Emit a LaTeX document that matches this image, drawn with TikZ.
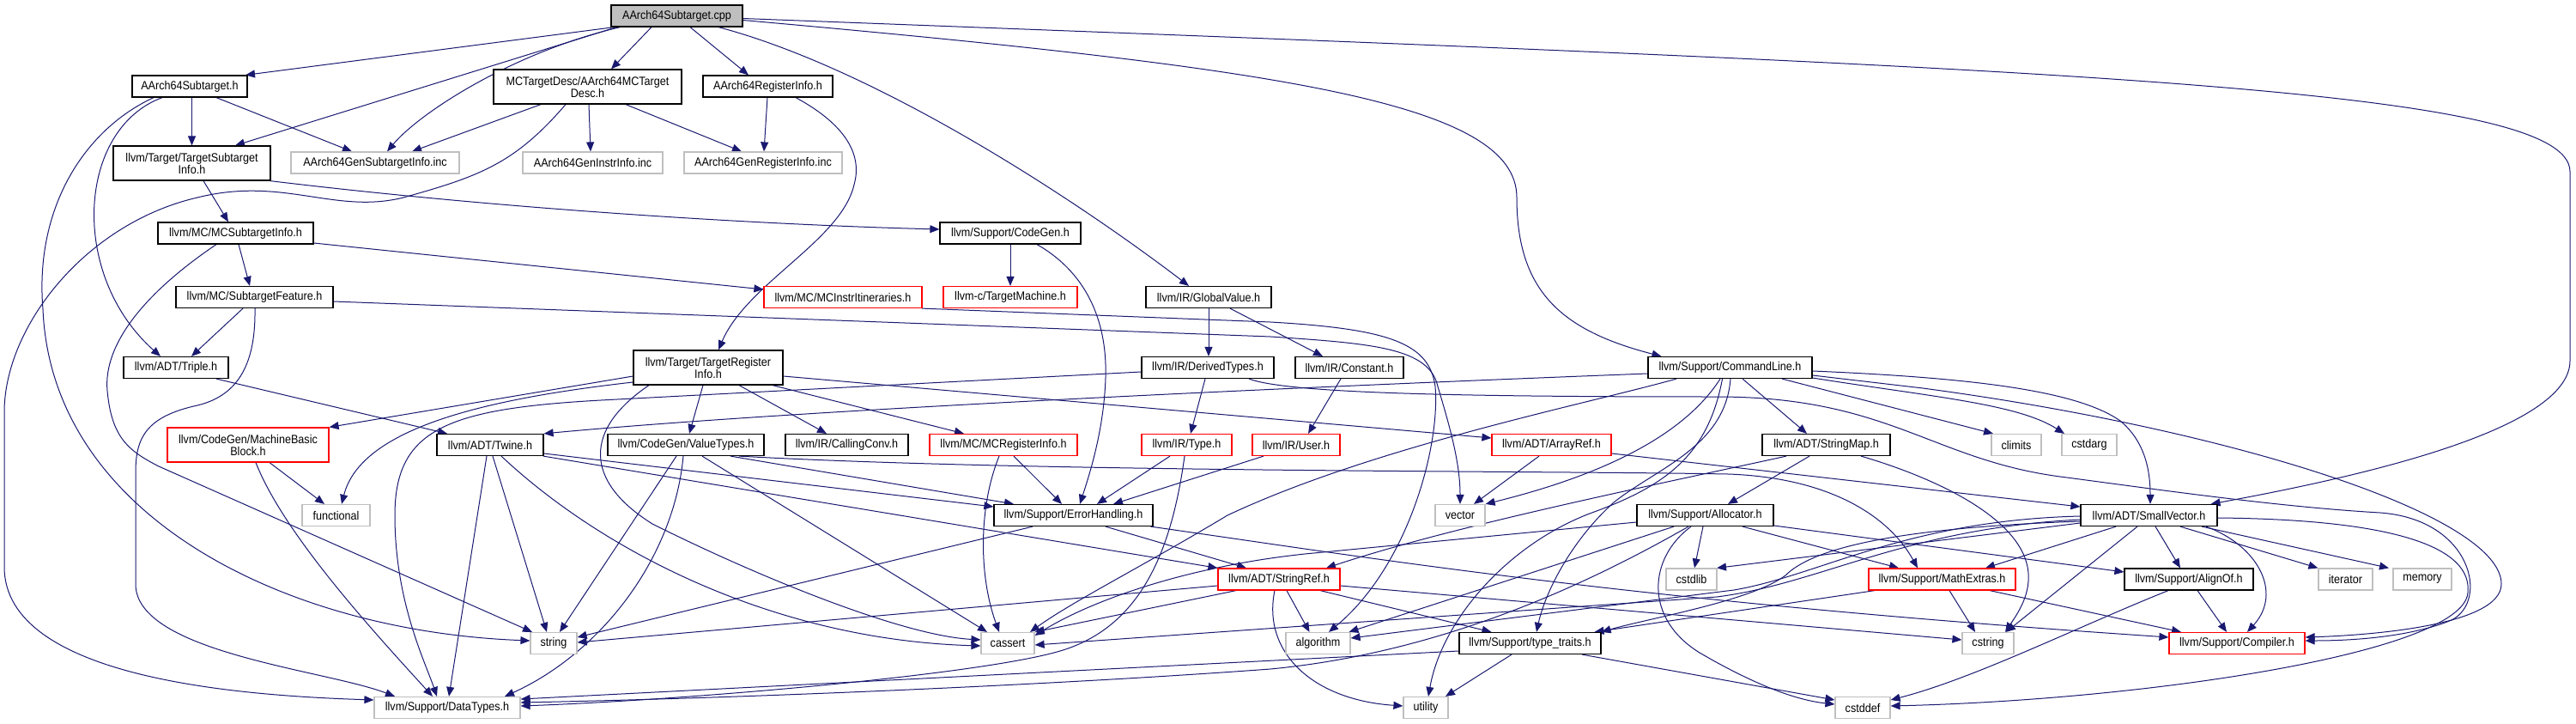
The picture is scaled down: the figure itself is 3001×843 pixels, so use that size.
\documentclass[tikz,border=0pt]{standalone}
\usepackage{fontspec}
\setmainfont{Liberation Sans}[FakeStretch=0.9]
\usetikzlibrary{arrows.meta}
\definecolor{edgec}{RGB}{25,25,112}
\definecolor{leafgray}{RGB}{191,191,191}
\definecolor{redb}{RGB}{255,0,0}
\definecolor{mainfill}{RGB}{191,191,191}
\pgfdeclarelayer{bg}
\pgfsetlayers{bg,main}
\tikzset{
  nb/.style={draw=black, line width=1.2pt, fill=white, inner sep=0pt, minimum height=25pt, align=center, font=\fontsize{14}{14}\selectfont},
  nl/.style={nb, draw=leafgray},
  nr/.style={nb, draw=redb},
  nm/.style={nb, fill=mainfill},
  edg/.style={draw=edgec, line width=1pt, -{Triangle[length=11pt,width=9pt]}},
}
\begin{document}
\begin{tikzpicture}[x=1pt,y=-1pt]
\useasboundingbox (0,0) rectangle (3001,843);
% ---------- nodes ----------
\node[nm, minimum width=153pt] (main) at (788.5,18.5) {AArch64Subtarget.cpp};
\node[nb, minimum width=134pt] (a64st) at (221,100.5) {AArch64Subtarget.h};
\node[nb, minimum width=219pt, minimum height=40pt] (mctd) at (684.5,101) {MCTargetDesc/AArch64MCTarget\\Desc.h};
\node[nb, minimum width=151pt] (a64ri) at (894.5,100.5) {AArch64RegisterInfo.h};
\node[nb, minimum width=183pt, minimum height=40pt] (tsi) at (223.5,190) {llvm/Target/TargetSubtarget\\Info.h};
\node[nl, minimum width=196pt] (gensti) at (437,189.5) {AArch64GenSubtargetInfo.inc};
\node[nl, minimum width=163pt] (genii) at (690.5,189.5) {AArch64GenInstrInfo.inc};
\node[nl, minimum width=184pt] (genri) at (889,189.5) {AArch64GenRegisterInfo.inc};
\node[nb, minimum width=181pt] (mcsti) at (274.5,271.5) {llvm/MC/MCSubtargetInfo.h};
\node[nb, minimum width=164pt] (codegen) at (1177,271.5) {llvm/Support/CodeGen.h};
\node[nb, minimum width=183pt] (stf) at (296.5,346) {llvm/MC/SubtargetFeature.h};
\node[nr, minimum width=184pt] (mcii) at (982,346) {llvm/MC/MCInstrItineraries.h};
\node[nr, minimum width=156pt] (tm) at (1177,346) {llvm-c/TargetMachine.h};
\node[nb, minimum width=146pt] (gv) at (1408,346) {llvm/IR/GlobalValue.h};
\node[nb, minimum width=122pt] (triple) at (205,428) {llvm/ADT/Triple.h};
\node[nb, minimum width=174pt, minimum height=40pt] (tri) at (825,428) {llvm/Target/TargetRegister\\Info.h};
\node[nb, minimum width=154pt] (dt) at (1407,428) {llvm/IR/DerivedTypes.h};
\node[nb, minimum width=126pt] (cnst) at (1572,428) {llvm/IR/Constant.h};
\node[nb, minimum width=191pt] (cl) at (2015.5,428) {llvm/Support/CommandLine.h};
\node[nr, minimum width=188pt, minimum height=40pt] (mbb) at (289,518) {llvm/CodeGen/MachineBasic\\Block.h};
\node[nb, minimum width=124pt] (twine) at (571,518) {llvm/ADT/Twine.h};
\node[nb, minimum width=182pt] (vt) at (799,518) {llvm/CodeGen/ValueTypes.h};
\node[nb, minimum width=143pt] (cc) at (986.5,518) {llvm/IR/CallingConv.h};
\node[nr, minimum width=172pt] (mcri) at (1169,518) {llvm/MC/MCRegisterInfo.h};
\node[nr, minimum width=105pt] (typeh) at (1382.5,518) {llvm/IR/Type.h};
\node[nr, minimum width=102pt] (userh) at (1510,518) {llvm/IR/User.h};
\node[nr, minimum width=139pt] (ar) at (1807.5,518) {llvm/ADT/ArrayRef.h};
\node[nb, minimum width=149pt] (smap) at (2127.5,518) {llvm/ADT/StringMap.h};
\node[nl, minimum width=58pt] (climits) at (2349,518) {climits};
\node[nl, minimum width=64pt] (cstdarg) at (2434,518) {cstdarg};
\node[nl, minimum width=79pt] (functional) at (391.5,600) {functional};
\node[nb, minimum width=185pt] (eh) at (1250.5,600) {llvm/Support/ErrorHandling.h};
\node[nl, minimum width=58pt] (vector) at (1701,600) {vector};
\node[nb, minimum width=159pt] (alloc) at (1986.5,600) {llvm/Support/Allocator.h};
\node[nb, minimum width=159pt] (sv) at (2503.5,600) {llvm/ADT/SmallVector.h};
\node[nr, minimum width=142pt] (sref) at (1490,674.5) {llvm/ADT/StringRef.h};
\node[nl, minimum width=59pt] (cstdlib) at (1970.5,674.5) {cstdlib};
\node[nr, minimum width=171pt] (mext) at (2262.5,674.5) {llvm/Support/MathExtras.h};
\node[nb, minimum width=150pt] (alignof) at (2550,674.5) {llvm/Support/AlignOf.h};
\node[nl, minimum width=63pt] (iterator) at (2732.5,674.5) {iterator};
\node[nl, minimum width=68pt] (memory) at (2822,674.5) {memory};
\node[nl, minimum width=54pt] (string) at (645,749) {string};
\node[nl, minimum width=62pt] (cassert) at (1174,749) {cassert};
\node[nl, minimum width=75pt] (algorithm) at (1535.5,749) {algorithm};
\node[nb, minimum width=165pt] (tt) at (1782.5,749) {llvm/Support/type\_traits.h};
\node[nl, minimum width=60pt] (cstring) at (2316,749) {cstring};
\node[nr, minimum width=158pt] (compiler) at (2606,749) {llvm/Support/Compiler.h};
\node[nl, minimum width=170pt] (datatypes) at (521,824) {llvm/Support/DataTypes.h};
\node[nl, minimum width=52pt] (utility) at (1661,824) {utility};
\node[nl, minimum width=64pt] (cstddef) at (2170,824) {cstddef};
% ---------- edges ----------
\begin{pgfonlayer}{bg}
% main
\draw[edg] ([xshift=-73pt]main.south) -- ([xshift=65pt]a64st.north);
\draw[edg] ([xshift=-70pt]main.south) -- ([xshift=50.5pt]tsi.north);
\draw[edg] ([xshift=-66pt]main.south) .. controls (600,60) and (490,130) .. ([xshift=14pt]gensti.north);
\draw[edg] ([xshift=-29.5pt]main.south) -- ([xshift=27.5pt]mctd.north);
\draw[edg] ([xshift=15.5pt]main.south) -- ([xshift=-22.5pt]a64ri.north);
\draw[edg] ([xshift=48.5pt]main.south) .. controls (1020,80) and (1250,230) .. ([xshift=-23pt]gv.north);
\draw[edg] ([yshift=-5pt]main.east) .. controls (1500,80) and (1767,120) .. (1767,230) .. controls (1767,340) and (1820,385) .. ([xshift=-80pt]cl.north);
\draw[edg] ([yshift=-3pt]main.east) .. controls (2400,80) and (2994,100) .. (2994,200) -- (2994,420) .. controls (2994,500) and (2750,555) .. ([xshift=72pt]sv.north);
% AArch64Subtarget.h
\draw[edg] ([xshift=2.5pt]a64st.south) -- (tsi.north);
\draw[edg] ([xshift=31pt]a64st.south) -- ([xshift=-27pt]gensti.north);
\draw[edg] ([xshift=-32pt]a64st.south) .. controls (90,150) and (80,320) .. ([xshift=-18pt]triple.north);
\draw[edg] ([xshift=-42pt]a64st.south) .. controls (100,150) and (40,240) .. (50,360) .. controls (60,600) and (330,735) .. ([yshift=3pt]string.west);
% MCTargetDesc
\draw[edg] ([xshift=-54.5pt]mctd.south) -- ([xshift=43pt]gensti.north);
\draw[edg] ([xshift=1.5pt]mctd.south) -- ([xshift=-2.5pt]genii.north);
\draw[edg] ([xshift=44.5pt]mctd.south) -- ([xshift=-25pt]genri.north);
\draw[edg] ([xshift=-25.5pt]mctd.south) .. controls (600,190) and (560,205) .. (470,230) .. controls (390,250) and (330,205) .. (230,230) .. controls (100,260) and (5,380) .. (5,480) -- (5,660) .. controls (5,790) and (280,810) .. ([yshift=9pt]datatypes.west);
% AArch64RegisterInfo.h
\draw[edg] ([xshift=-0.5pt]a64ri.south) -- ([xshift=1pt]genri.north);
\draw[edg] ([xshift=32.5pt]a64ri.south) .. controls (985,145) and (1005,180) .. (995,215) .. controls (980,280) and (870,330) .. ([xshift=12pt]tri.north);
% TargetSubtargetInfo
\draw[edg] ([xshift=13.5pt]tsi.south) -- ([xshift=-8.5pt]mcsti.north);
\draw[edg] ([xshift=91pt]tsi.south) .. controls (600,245) and (900,262) .. ([yshift=4.5pt]codegen.west);
% MCSubtargetInfo
\draw[edg] ([yshift=-11.5pt]mcsti.east) -- ([yshift=9pt]mcii.west);
\draw[edg] ([xshift=3.5pt]mcsti.south) -- ([xshift=-5.5pt]stf.north);
\draw[edg] ([xshift=-22.5pt]mcsti.south) .. controls (170,340) and (120,400) .. (125,455) .. controls (130,510) and (150,525) .. (185,543) -- ([xshift=-25pt]string.north);
% SubtargetFeature
\draw[edg] ([xshift=-13.5pt]stf.south) -- ([xshift=18pt]triple.north);
\draw[edg] ([xshift=0.5pt]stf.south) .. controls (298,420) and (280,460) .. (230,472) .. controls (170,485) and (158,510) .. (158,550) -- (158,680) .. controls (158,760) and (380,780) .. ([xshift=-61pt]datatypes.north);
\draw[edg] ([yshift=-5pt]stf.east) -- (1480,392) .. controls (1600,400) and (1665,405) .. (1675,450) .. controls (1690,500) and (1701,540) .. (vector.north);
% MCInstrItineraries
\draw[edg] ([xshift=92pt]mcii.south) -- (1480,375) .. controls (1620,383) and (1665,400) .. (1672,450) .. controls (1678,520) and (1640,660) .. ([xshift=12.5pt]algorithm.north);
% CodeGen
\draw[edg] (codegen.south) -- (tm.north);
\draw[edg] ([xshift=31pt]codegen.south) .. controls (1270,320) and (1290,380) .. (1288,440) .. controls (1286,500) and (1270,550) .. ([xshift=7.5pt]eh.north);
% GlobalValue
\draw[edg] (gv.south) -- ([xshift=1pt]dt.north);
\draw[edg] ([xshift=25pt]gv.south) -- ([xshift=-31pt]cnst.north);
% Triple
\draw[edg] ([xshift=47pt]triple.south) -- ([xshift=-50pt]twine.north);
% TargetRegisterInfo
\draw[edg] ([yshift=-10pt]tri.west) -- (mbb.north east);
\draw[edg] ([yshift=-17pt]tri.west) .. controls (560,465) and (420,500) .. ([xshift=6.5pt]functional.north);
\draw[edg] ([xshift=-6pt]tri.south) -- ([xshift=4pt]vt.north);
\draw[edg] ([xshift=36pt]tri.south) -- ([xshift=-23.5pt]cc.north);
\draw[edg] ([xshift=75pt]tri.south) -- ([xshift=-46pt]mcri.north);
\draw[edg] ([yshift=-10pt]tri.east) -- ([yshift=8pt]ar.west);
\draw[edg] ([xshift=-69pt]tri.south) .. controls (680,500) and (680,560) .. (760,610) .. controls (880,670) and (1050,740) .. ([yshift=4pt]cassert.west);
% DerivedTypes
\draw[edg] ([xshift=-3pt]dt.south) -- ([xshift=4.5pt]typeh.north);
\draw[edg] ([yshift=-5pt]dt.west) -- (700,466) .. controls (520,476) and (460,500) .. (460,600) .. controls (460,700) and (495,770) .. ([xshift=-12pt]datatypes.north);
\draw[edg] ([xshift=48pt]dt.south) .. controls (1500,458) and (1700,462) .. (2000,462) .. controls (2200,462) and (2250,535) .. (2400,555) .. controls (2500,568) and (2650,590) .. (2773,597) .. controls (2880,605) and (2900,700) .. (2856,722) .. controls (2800,745) and (2720,746) .. ([yshift=3pt]compiler.east);
% Constant
\draw[edg] ([xshift=-10pt]cnst.south) -- ([xshift=14pt]userh.north);
% CommandLine
\draw[edg] ([yshift=-7pt]cl.west) .. controls (1400,455) and (900,480) .. (twine.north east);
\draw[edg] ([xshift=-62.5pt]cl.south) .. controls (1850,470) and (1600,520) .. (1430,600) .. controls (1330,660) and (1250,700) .. ([xshift=26pt]cassert.north);
\draw[edg] ([xshift=-11.5pt]cl.south) .. controls (1960,510) and (1860,555) .. (vector.north east);
\draw[edg] ([xshift=-9pt]cl.south) .. controls (1990,530) and (1940,565) .. (1860,595) .. controls (1760,630) and (1680,720) .. ([xshift=3pt]utility.north);
\draw[edg] ([xshift=0.5pt]cl.south) .. controls (2010,520) and (1930,545) .. (1880,585) .. controls (1830,630) and (1800,690) .. ([xshift=7.5pt]tt.north);
\draw[edg] ([xshift=14.5pt]cl.south) -- ([xshift=-22.5pt]smap.north);
\draw[edg] ([xshift=60.5pt]cl.south) -- ([xshift=-27pt]climits.north);
\draw[edg] ([yshift=-12pt]cl.east) .. controls (2250,462) and (2350,470) .. ([xshift=-29pt]cstdarg.north);
\draw[edg] ([yshift=-4pt]cl.east) .. controls (2300,440) and (2420,455) .. (2470,490) .. controls (2500,515) and (2505,550) .. ([xshift=1.5pt]sv.north);
\draw[edg] ([yshift=-9pt]cl.east) -- (2240,452) .. controls (2600,500) and (2914,600) .. (2914,680) .. controls (2914,730) and (2750,740) .. ([yshift=7pt]compiler.east);
% MachineBasicBlock
\draw[edg] ([xshift=25pt]mbb.south) -- ([xshift=-13.5pt]functional.north);
\draw[edg] ([xshift=9pt]mbb.south) .. controls (330,620) and (430,730) .. ([xshift=-17pt]datatypes.north);
% Twine
\draw[edg] ([xshift=-4pt]twine.south) -- ([xshift=2pt]datatypes.north);
\draw[edg] ([xshift=3pt]twine.south) -- ([xshift=-8pt]string.north);
\draw[edg] ([xshift=13pt]twine.south) .. controls (700,640) and (900,745) .. ([yshift=-3pt]cassert.west);
\draw[edg] ([yshift=-10pt]twine.east) -- ([yshift=10pt]eh.west);
\draw[edg] ([xshift=62pt]twine.south) -- (sref.north west);
% ValueTypes
\draw[edg] ([xshift=-11pt]vt.south) -- ([xshift=7pt]string.north);
\draw[edg] ([xshift=-3pt]vt.south) .. controls (785,650) and (700,760) .. ([xshift=67pt]datatypes.north);
\draw[edg] ([xshift=19pt]vt.south) -- ([xshift=-24pt]cassert.north);
\draw[edg] ([xshift=52pt]vt.south) -- ([xshift=-69.5pt]eh.north);
\draw[edg] ([xshift=62pt]vt.south) .. controls (1200,550) and (1800,548) .. (2013,552) .. controls (2130,556) and (2200,600) .. ([xshift=-28.5pt]mext.north);
% MCRegisterInfo
\draw[edg] ([xshift=-5pt]mcri.south) .. controls (1140,590) and (1140,670) .. ([xshift=-10pt]cassert.north);
\draw[edg] ([xshift=12pt]mcri.south) -- ([xshift=-13.5pt]eh.north);
% Type
\draw[edg] ([xshift=-19.5pt]typeh.south) -- ([xshift=27.5pt]eh.north);
\draw[edg] ([xshift=-2.5pt]typeh.south) .. controls (1365,640) and (1330,730) .. (1235,758) .. controls (1140,786) and (800,815) .. ([yshift=2pt]datatypes.east);
% User
\draw[edg] ([xshift=-38pt]userh.south) -- ([xshift=46.5pt]eh.north);
% ArrayRef
\draw[edg] ([xshift=-14.5pt]ar.south) -- ([xshift=16pt]vector.north);
\draw[edg] ([yshift=-10pt]ar.east) -- ([yshift=10pt]sv.west);
% StringMap
\draw[edg] ([xshift=-46.5pt]smap.south) .. controls (1950,560) and (1700,610) .. ([xshift=55pt]sref.north);
\draw[edg] ([xshift=-19.5pt]smap.south) -- ([xshift=26.5pt]alloc.north);
\draw[edg] ([xshift=40.5pt]smap.south) .. controls (2250,555) and (2350,600) .. (2362,660) .. controls (2368,690) and (2350,715) .. ([xshift=20pt]cstring.north);
% ErrorHandling
\draw[edg] ([xshift=-47.5pt]eh.south) -- ([yshift=7pt]string.east);
\draw[edg] ([xshift=37.5pt]eh.south) -- ([xshift=-38pt]sref.north);
\draw[edg] ([xshift=90pt]eh.south) .. controls (1600,650) and (1900,700) .. ([yshift=7pt]compiler.west);
% StringRef
\draw[edg] ([xshift=9pt]sref.south) -- ([xshift=-10pt]algorithm.north);
\draw[edg] ([xshift=48pt]sref.south) -- ([xshift=-45pt]tt.north);
\draw[edg] ([xshift=-5pt]sref.south) .. controls (1470,760) and (1530,815) .. ([yshift=2pt]utility.west);
\draw[edg] ([yshift=-7.5pt]sref.east) -- ([yshift=4pt]cstring.west);
\draw[edg] ([yshift=-7.5pt]sref.west) -- ([yshift=1pt]string.east);
\draw[edg] ([xshift=-50pt]sref.south) -- (cassert.north east);
% Allocator
\draw[edg] ([yshift=-8pt]alloc.west) -- (1520,645) .. controls (1380,660) and (1270,700) .. ([yshift=9pt]cassert.east);
\draw[edg] ([xshift=-36.5pt]alloc.south) -- ([xshift=36pt]algorithm.north);
\draw[edg] ([xshift=-19.5pt]alloc.south) .. controls (1850,680) and (1680,760) .. (1480,779) .. controls (1250,796) and (900,812) .. ([yshift=6pt]datatypes.east);
\draw[edg] ([xshift=-16.5pt]alloc.south) .. controls (1920,650) and (1915,720) .. (1980,760) .. controls (2040,795) and (2090,815) .. ([yshift=4pt]cstddef.west);
\draw[edg] ([xshift=-2.5pt]alloc.south) -- ([xshift=3.5pt]cstdlib.north);
\draw[edg] ([xshift=43.5pt]alloc.south) -- ([xshift=-50.5pt]mext.north);
\draw[edg] ([yshift=-12pt]alloc.east) -- ([yshift=8.5pt]alignof.west);
% SmallVector
\draw[edg] ([yshift=-1pt]sv.west) .. controls (2220,606) and (2120,670) .. (2020,687) -- ([yshift=6pt]algorithm.east);
\draw[edg] ([yshift=-5pt]sv.west) .. controls (2220,615) and (2120,680) .. (2000,695) -- ([yshift=-2pt]cassert.east);
\draw[edg] ([yshift=-7pt]sv.west) .. controls (2200,615) and (2110,640) .. (2080,670) .. controls (2040,700) and (1920,720) .. (tt.north east);
\draw[edg] ([yshift=-9pt]sv.west) -- ([xshift=29.5pt]cstdlib.north);
\draw[edg] ([xshift=-38.5pt]sv.south) -- ([xshift=50.5pt]mext.north);
\draw[edg] ([xshift=-13.5pt]sv.south) -- ([xshift=21pt]cstring.north);
\draw[edg] ([xshift=7.5pt]sv.south) -- ([xshift=-10pt]alignof.north);
\draw[edg] ([xshift=36.5pt]sv.south) -- (iterator.north west);
\draw[edg] ([xshift=61.5pt]sv.south) -- ([xshift=-39pt]memory.north);
\draw[edg] ([xshift=66.5pt]sv.south) .. controls (2630,635) and (2660,690) .. ([xshift=12pt]compiler.north);
\draw[edg] ([yshift=-3pt]sv.east) .. controls (2800,605) and (2880,640) .. (2875,690) .. controls (2870,760) and (2500,815) .. ([yshift=2pt]cstddef.east);
% MathExtras
\draw[edg] ([xshift=-78.5pt]mext.south) -- ([xshift=75pt]tt.north);
\draw[edg] ([xshift=8.5pt]mext.south) -- ([xshift=-15pt]cstring.north);
\draw[edg] ([xshift=55.5pt]mext.south) -- ([xshift=-65pt]compiler.north);
% AlignOf
\draw[edg] ([xshift=10pt]alignof.south) -- ([xshift=-12pt]compiler.north);
\draw[edg] ([xshift=-24pt]alignof.south) .. controls (2420,730) and (2300,790) .. ([yshift=9pt]cstddef.east);
% type_traits
\draw[edg] ([yshift=-9pt]tt.west) -- ([yshift=10pt]datatypes.east);
\draw[edg] ([xshift=-21.5pt]tt.south) -- ([xshift=23pt]utility.north);
\draw[edg] ([xshift=60.5pt]tt.south) -- ([yshift=9pt]cstddef.west);
\end{pgfonlayer}
\end{tikzpicture}
\end{document}
